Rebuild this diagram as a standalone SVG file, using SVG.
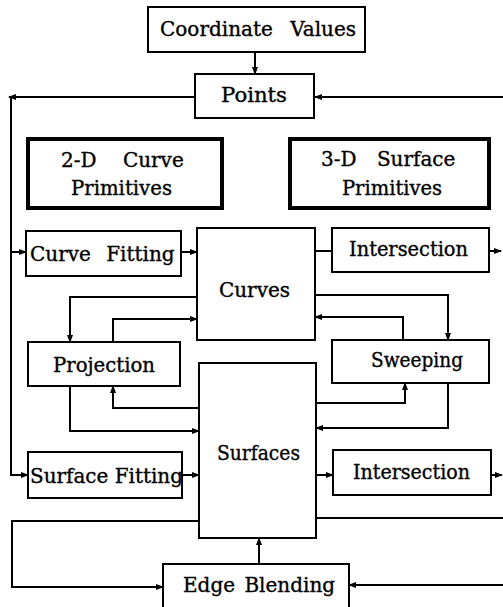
<svg xmlns="http://www.w3.org/2000/svg" width="503" height="607" viewBox="0 0 503 607">
<defs>
<marker id="ah" markerUnits="userSpaceOnUse" markerWidth="8" markerHeight="6" refX="7" refY="3" orient="auto">
<path d="M0,0 L8,3 L0,6 z" fill="#000"/>
</marker>
<style>
.box{fill:#fff;stroke:#000;stroke-width:2}
.thick{fill:#fff;stroke:#000;stroke-width:4}
.t{font-family:"DejaVu Serif","Liberation Serif",serif;font-size:20px;fill:#000;stroke:#000;stroke-width:0.35}
.c{fill:none;stroke:#000;stroke-width:2}
.a{fill:none;stroke:#000;stroke-width:2;marker-end:url(#ah)}
</style>
</defs>
<rect width="503" height="607" fill="#fff"/>
<g id="connectors">
<path class="a" d="M255,52 L255,74"/>
<path class="a" d="M195,97 L9,97"/>
<path class="a" d="M11,97 L11,475 L28,475"/>
<path class="a" d="M11,252 L26,252"/>
<path class="a" d="M503,97 L315,97"/>
<path class="a" d="M181,252 L197,252"/>
<path class="c" d="M315,251 L332,251"/>
<path class="a" d="M489,251 L501,251"/>
<path class="a" d="M197,297 L70,297 L70,342"/>
<path class="a" d="M113,342 L113,319 L197,319"/>
<path class="a" d="M315,295 L448,295 L448,340"/>
<path class="a" d="M403,340 L403,317 L315,317"/>
<path class="a" d="M70,386 L70,431 L199,431"/>
<path class="a" d="M199,408 L113,408 L113,386"/>
<path class="a" d="M316,403 L405,403 L405,383"/>
<path class="a" d="M448,383 L448,428 L316,428"/>
<path class="a" d="M182,475 L199,475"/>
<path class="a" d="M316,475 L333,475"/>
<path class="a" d="M491,475 L502,475"/>
<path class="c" d="M316,518 L503,518"/>
<path class="a" d="M503,585 L349,585"/>
<path class="a" d="M199,521 L12,521 L12,587 L163,587"/>
<path class="a" d="M259,564 L259,538"/>
</g>
<g id="coordinate-values">
<rect class="box" x="148" y="7" width="217" height="45"/>
<text class="t" x="160" y="36" word-spacing="11">Coordinate Values</text>
</g>
<g id="points">
<rect class="box" x="195" y="74" width="119" height="44"/>
<text class="t" x="221" y="102" textLength="66" lengthAdjust="spacingAndGlyphs">Points</text>
</g>
<g id="curve-primitives">
<rect class="thick" x="28" y="139" width="194" height="69"/>
<text class="t" x="61" y="167" word-spacing="20">2-D Curve</text>
<text class="t" x="71" y="195" textLength="101" lengthAdjust="spacingAndGlyphs">Primitives</text>
</g>
<g id="surface-primitives">
<rect class="thick" x="290" y="139" width="199" height="69"/>
<text class="t" x="321" y="166" word-spacing="14">3-D Surface</text>
<text class="t" x="342" y="195" textLength="100" lengthAdjust="spacingAndGlyphs">Primitives</text>
</g>
<g id="curve-fitting">
<rect class="box" x="26" y="231" width="155" height="45"/>
<text class="t" x="30" y="261" word-spacing="9">Curve Fitting</text>
</g>
<g id="curves">
<rect class="box" x="197" y="228" width="118" height="112"/>
<text class="t" x="219" y="297" textLength="71" lengthAdjust="spacingAndGlyphs">Curves</text>
</g>
<g id="intersection-1">
<rect class="box" x="332" y="228" width="157" height="44"/>
<text class="t" x="349" y="256" textLength="119" lengthAdjust="spacingAndGlyphs">Intersection</text>
</g>
<g id="projection">
<rect class="box" x="28" y="342" width="152" height="44"/>
<text class="t" x="53" y="372" textLength="102" lengthAdjust="spacingAndGlyphs">Projection</text>
</g>
<g id="sweeping">
<rect class="box" x="332" y="340" width="157" height="43"/>
<text class="t" x="371" y="367" textLength="92" lengthAdjust="spacingAndGlyphs">Sweeping</text>
</g>
<g id="surfaces">
<rect class="box" x="199" y="363" width="117" height="175"/>
<text class="t" x="217" y="460" textLength="83" lengthAdjust="spacingAndGlyphs">Surfaces</text>
</g>
<g id="surface-fitting">
<rect class="box" x="28" y="452" width="154" height="46"/>
<text class="t" x="30" y="483" textLength="153" lengthAdjust="spacingAndGlyphs">Surface Fitting</text>
</g>
<g id="intersection-2">
<rect class="box" x="333" y="450" width="158" height="45"/>
<text class="t" x="353" y="479" textLength="117" lengthAdjust="spacingAndGlyphs">Intersection</text>
</g>
<g id="edge-blending">
<rect class="box" x="163" y="564" width="186" height="50"/>
<text class="t" x="183" y="592" word-spacing="3">Edge Blending</text>
</g>
</svg>
